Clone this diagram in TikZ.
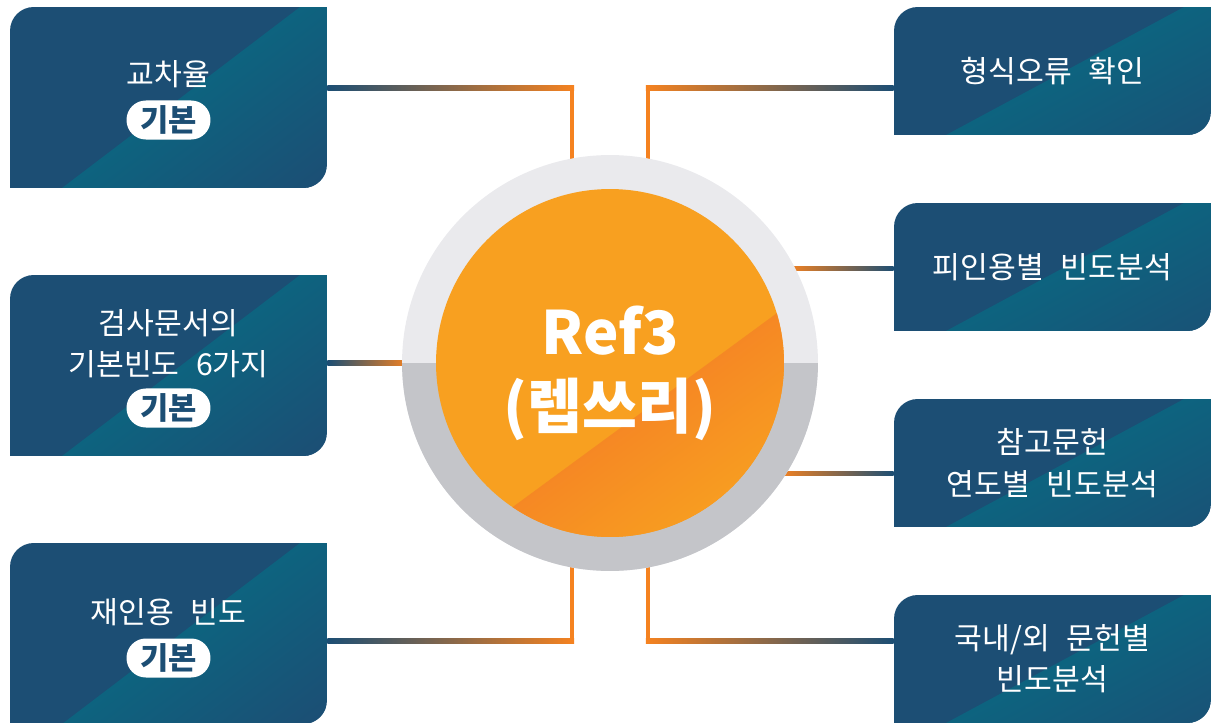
\documentclass[tikz,border=0pt]{standalone}
\usepackage{fontspec}
\setmainfont{Noto Sans CJK KR}
\usetikzlibrary{calc,backgrounds}

\definecolor{navy}{HTML}{1C4E74}
\definecolor{panelteal}{HTML}{0C6580}
\definecolor{wireorange}{HTML}{F58220}
\definecolor{ringhi}{HTML}{EAEAED}
\definecolor{ringlo}{HTML}{C4C5C9}
\definecolor{orgL}{HTML}{F8A020}
\definecolor{orgD}{HTML}{F47A26}

\pgfdeclarehorizontalshading{boxshade}{100bp}{color(0bp)=(panelteal); color(49bp)=(panelteal); color(76bp)=(navy); color(100bp)=(navy)}
\pgfdeclarehorizontalshading{coreshade}{100bp}{color(0bp)=(orgD); color(47bp)=(orgD); color(78bp)=(orgL); color(100bp)=(orgL)}

% panel outline: top-left and bottom-right corners rounded
\newcommand\panelshape{(sw) -- ([yshift=-13.5pt]nw) arc[start angle=180,end angle=90,radius=13.5pt] -- (ne) -- ([yshift=13.5pt]se) arc[start angle=0,end angle=-90,radius=13.5pt] -- cycle}
\newcommand\wgap{\hspace{0.55em}}

\begin{document}
\begin{tikzpicture}
[x=0.02cm, y=-0.02cm,
 panel/.style={rectangle, inner sep=0pt, minimum width=6.34cm, fill=white,
   text=white, align=center, font=\fontsize{17.2}{23.5}\selectfont,
   path picture={
     \coordinate (sw) at (path picture bounding box.south west);
     \coordinate (nw) at (path picture bounding box.north west);
     \coordinate (ne) at (path picture bounding box.north east);
     \coordinate (se) at (path picture bounding box.south east);
     \path (sw) ++(52,0) coordinate (db);
     \path (ne) ++(-27,0) coordinate (dt);
     \path (path picture bounding box.center) ++(-158.5,-158.5) coordinate (q1) ++(317,317) coordinate (q2);
     \fill[navy] \panelshape;
     \pgfmathanglebetweenpoints{\pgfpointanchor{db}{center}}{\pgfpointanchor{dt}{center}}
     \pgfmathsetmacro\shadeang{\pgfmathresult-90}
     \begin{scope}
       \clip \panelshape;
       \clip (db) -- (dt) -- (ne) -- (se) -- cycle;
       \shade[shading=boxshade, shading angle=\shadeang] (q1) rectangle (q2);
     \end{scope}}},
 panelL/.style={panel, minimum height=3.62cm},
 panelR/.style={panel, minimum height=2.56cm},
 boxtext/.style={text=white, align=center, font=\fontsize{17.2}{23.5}\selectfont},
 pill/.style={rectangle, rounded corners=11pt, fill=white, text=navy, inner sep=0pt,
   minimum width=47.8pt, minimum height=22.2pt, font=\bfseries\fontsize{17.5}{17.5}\selectfont},
 ringnode/.style={circle, inner sep=0pt, minimum size=8.32cm, fill=ringhi,
   path picture={\fill[ringlo] (path picture bounding box.west) rectangle (path picture bounding box.south east);}},
 corenode/.style={circle, inner sep=0pt, minimum size=6.96cm, fill=orgL,
   path picture={
     \path (path picture bounding box.center) ++(-258,262) coordinate (c1) ++(564,-414) coordinate (c2) ++(0,414) coordinate (c3);
     \path (path picture bounding box.center) ++(-174,-174) coordinate (q1) ++(348,348) coordinate (q2);
     \clip (c1) -- (c2) -- (c3) -- cycle;
     \shade[shading=coreshade, shading angle=-54] (q1) rectangle (q2);}},
 hubtext/.style={text=white, align=center, font=\bfseries\fontsize{34}{42}\selectfont},
 link/.style={draw=wireorange, line width=2.5pt, line cap=rect}]

\useasboundingbox (0,0) rectangle (1211,723);

% left column
\node[panelL] (p1) at (168.5,97.5) {};
\node[boxtext] (t1) at (168.5,74) {교차율};
\node[pill] (b1) at (168.5,120) {기본};
\node[panelL] (p2) at (168.5,365.5) {};
\node[boxtext] (t2) at (168.5,344) {검사문서의\\기본빈도\wgap 6가지};
\node[pill] (b2) at (168.5,408) {기본};
\node[panelL] (p3) at (168.5,633.5) {};
\node[boxtext] (t3) at (168.5,612) {재인용\wgap 빈도};
\node[pill] (b3) at (168.5,658) {기본};

% right column
\node[panelR] (p4) at (1052.5,71) {형식오류\wgap 확인};
\node[panelR] (p5) at (1052.5,267) {피인용별\wgap 빈도분석};
\node[panelR] (p6) at (1052.5,463) {참고문헌\\연도별\wgap 빈도분석};
\node[panelR] (p7) at (1052.5,659) {국내/외\wgap 문헌별\\빈도분석};

% hub
\node[ringnode] (ring) at (610,363) {};
\node[corenode] (core) at (ring.center) {};
\node[hubtext] (hubname) at (610,373) {Ref3\\(렙쓰리)};

\coordinate (j1) at (572,88);
\coordinate (j2) at (648,88);
\coordinate (j3) at (572,641);
\coordinate (j4) at (648,641);

\begin{scope}[on background layer]
\shade[left color=navy, right color=wireorange] ($(p1.east |- j1)+(0,-2.2)$) rectangle ($(j1)+(2.2,2.2)$);
\draw[link] (j1) -- (j1 |- ring.center);
\shade[left color=wireorange, right color=navy] ($(j2)+(-2.2,-2.2)$) rectangle ($(p4.west |- j2)+(0,2.2)$);
\draw[link] (j2) -- (j2 |- ring.center);
\shade[left color=navy, middle color=wireorange, right color=wireorange] ($(p2.east |- ring.west)+(0,-2.2)$) rectangle ($(ring.west)+(8,2.2)$);
\shade[left color=wireorange, middle color=wireorange, right color=navy] ($(ring.27)+(-8,-2.2)$) rectangle ($(p5.west |- ring.27)+(0,2.2)$);
\shade[left color=wireorange, middle color=wireorange, right color=navy] ($(ring.-32)+(-8,-2.2)$) rectangle ($(p6.west |- ring.-32)+(0,2.2)$);
\shade[left color=navy, right color=wireorange] ($(p3.east |- j3)+(0,-2.2)$) rectangle ($(j3)+(2.2,2.2)$);
\draw[link] (j3) -- (j3 |- ring.center);
\shade[left color=wireorange, right color=navy] ($(j4)+(-2.2,-2.2)$) rectangle ($(p7.west |- j4)+(0,2.2)$);
\draw[link] (j4) -- (j4 |- ring.center);
\end{scope}
\end{tikzpicture}
\end{document}
